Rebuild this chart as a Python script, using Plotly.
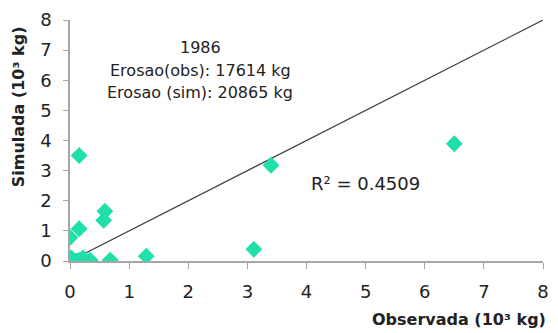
import plotly.graph_objects as go

obs = [0.0, 0.02, 0.05, 0.1, 0.15, 0.22, 0.0, 0.155, 0.155, 0.57, 0.59, 0.34, 0.68, 1.29, 3.11, 3.4, 6.5]
sim = [0.05, 0.1, 0.02, 0.0, 0.03, 0.1, 0.78, 1.07, 3.5, 1.35, 1.65, 0.03, 0.03, 0.16, 0.39, 3.18, 3.89]
line_x = [0, 8]
line_y = [0, 8]
ticks = [0, 1, 2, 3, 4, 5, 6, 7, 8]
info_lines = ["1986", "Erosao(obs): 17614 kg", "Erosao (sim): 20865 kg"]

font = "DejaVu Sans"
L, R, T, B = 70, 9, 19, 72
W, H = 558 - L - R, 333 - T - B

def px(x):
    return (x - L) / W

def py(y):
    return (333 - B - y) / H

fig = go.Figure()
fig.add_trace(go.Scatter(x=line_x, y=line_y, mode="lines",
                         line=dict(color="#404040", width=1.2), showlegend=False))
fig.add_trace(go.Scatter(x=obs, y=sim, mode="markers",
                         marker=dict(symbol="diamond", size=13, color="#1EE0A8"),
                         showlegend=False))

annots = []
for i, t in enumerate(info_lines):
    annots.append(dict(text=t, xref="paper", yref="paper", x=px(202), y=py(47 + 22.5 * i),
                       xanchor="center", yanchor="middle", showarrow=False,
                       font=dict(size=16, color="#222222")))
annots += [
    dict(text="R² = 0.4509", xref="paper", yref="paper",
         x=px(369), y=py(183), xanchor="center", yanchor="middle",
         showarrow=False, font=dict(size=18, color="#222222")),
    dict(text="<b>Observada (10³ kg)</b>", xref="paper", yref="paper",
         x=px(554), y=py(320), xanchor="right", yanchor="middle",
         showarrow=False, font=dict(size=16, color="#222222")),
    dict(text="<b>Simulada (10³ kg)</b>", xref="paper", yref="paper",
         x=px(18), y=py(106), xanchor="center", yanchor="middle",
         textangle=-90, showarrow=False, font=dict(size=16, color="#222222")),
]

fig.update_layout(
    width=558, height=333,
    margin=dict(l=L, r=R, t=T, b=B),
    paper_bgcolor="white", plot_bgcolor="white",
    font=dict(family=font, size=16, color="#222222"),
    xaxis=dict(range=[0, 8], tickvals=ticks, showgrid=False, zeroline=False,
               showline=True, linecolor="#a6a6a6", linewidth=1.5,
               ticks="outside", ticklen=6, tickcolor="#a6a6a6",
               ticklabelstandoff=8, tickfont=dict(size=18)),
    yaxis=dict(range=[0, 8], tickvals=ticks, showgrid=False, zeroline=False,
               showline=True, linecolor="#a6a6a6", linewidth=1.5,
               ticks="outside", ticklen=5, tickcolor="#a6a6a6",
               ticklabelstandoff=8, tickfont=dict(size=18)),
    annotations=annots,
)
fig.write_html("out.html")
